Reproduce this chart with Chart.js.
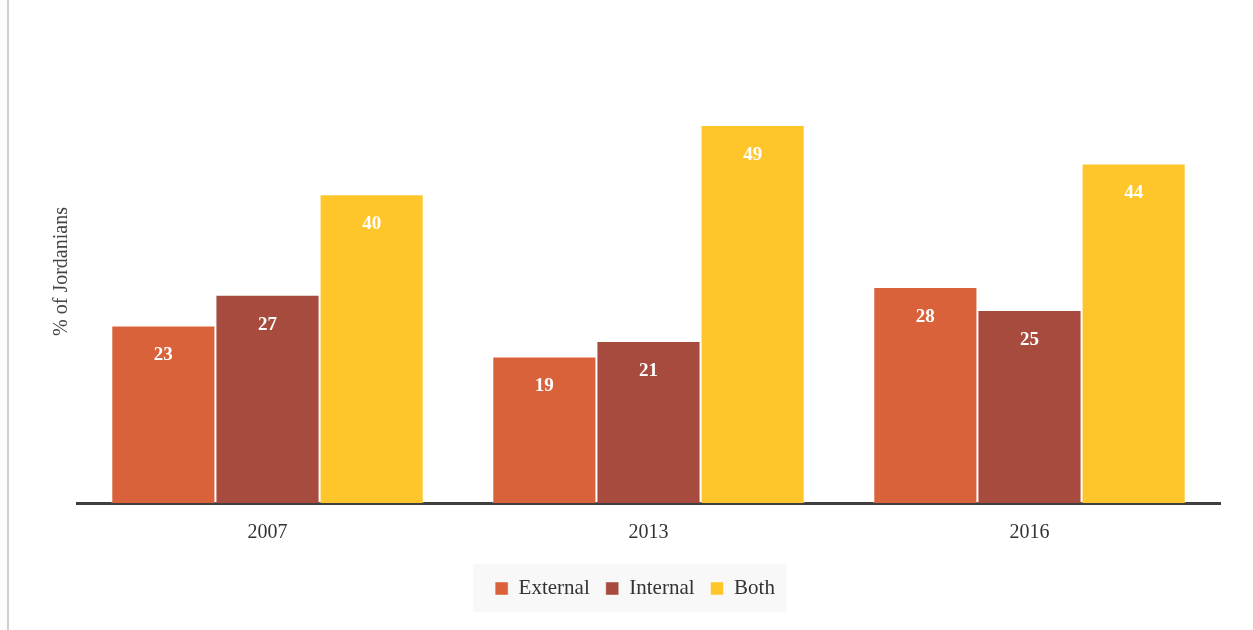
<!DOCTYPE html>
<html>
<head>
<meta charset="utf-8">
<script src="https://cdn.jsdelivr.net/npm/chart.js@4.4.0/dist/chart.umd.min.js"></script>
<style>
  html, body { margin: 0; padding: 0; background: #fdfdfd; }
  #wrap {
    position: absolute; left: 7px; top: 0;
    width: 1244px; height: 630px;
    border-left: 2px solid #cfcfcf;
    background: #fff;
  }
  canvas { display: block; }
</style>
</head>
<body>
<div id="wrap"><canvas id="grafico"></canvas></div>
<script>
// Dados
const anos = ['2007', '2013', '2016'];
const externo = [23, 19, 28];
const interno = [27, 21, 25];
const ambos = [40, 49, 44];

const fonte = "'Liberation Serif', 'DejaVu Serif', serif";

// Fundo cinza claro atrás da legenda
const fundoLegenda = {
  id: 'fundoLegenda',
  beforeDraw(chart) {
    const leg = chart.legend;
    if (!leg || !leg.legendHitBoxes || !leg.legendHitBoxes.length) return;
    const boxes = leg.legendHitBoxes;
    const left = Math.min(...boxes.map(b => b.left)) - 22;
    const right = Math.max(...boxes.map(b => b.left + b.width)) + 12;
    const ctx = chart.ctx;
    ctx.save();
    ctx.fillStyle = '#f8f8f8';
    ctx.fillRect(left, 564, right - left, 48);
    ctx.restore();
  }
};

// Valores dentro das barras
const rotulos = {
  id: 'rotulos',
  afterDatasetsDraw(chart) {
    const ctx = chart.ctx;
    ctx.save();
    ctx.fillStyle = '#fff';
    ctx.font = 'bold 19px ' + fonte;
    ctx.textAlign = 'center';
    ctx.textBaseline = 'middle';
    chart.data.datasets.forEach((ds, i) => {
      chart.getDatasetMeta(i).data.forEach((bar, j) => {
        ctx.fillText(ds.data[j], bar.x, bar.y + 30);
      });
    });
    ctx.restore();
  }
};

const ctx = document.getElementById('grafico').getContext('2d');

new Chart(ctx, {
  type: 'bar',
  data: {
    labels: anos,
    datasets: [
      { label: 'External', data: externo, backgroundColor: '#d9623a' },
      { label: 'Internal', data: interno, backgroundColor: '#a84b3f' },
      { label: 'Both', data: ambos, backgroundColor: '#fec62b' }
    ]
  },
  options: {
    responsive: true,
    maintainAspectRatio: false,
    animation: false,
    layout: { padding: { left: 41, right: 33, top: 40, bottom: 21 } },
    datasets: {
      bar: {
        categoryPercentage: 0.82,
        barPercentage: 1.0,
        borderColor: 'rgba(255,255,255,0.45)',
        borderWidth: 1
      }
    },
    scales: {
      x: {
        grid: { display: false, drawTicks: false },
        border: { display: true, color: '#3f3f3f', width: 3 },
        ticks: { color: '#333', font: { family: fonte, size: 20 }, padding: 17.5 }
      },
      y: {
        min: 0,
        max: 60,
        grid: { display: false },
        border: { display: false },
        ticks: { display: false },
        title: {
          display: true,
          text: '% of Jordanians',
          color: '#444',
          font: { family: fonte, size: 20 },
          padding: 0
        },
        afterFit(scale) { scale.width = 27; }
      }
    },
    plugins: {
      legend: {
        position: 'bottom',
        labels: {
          color: '#333',
          font: { family: fonte, size: 21 },
          boxWidth: 13,
          boxHeight: 13,
          padding: 16
        }
      },
      tooltip: { enabled: false }
    }
  },
  plugins: [fundoLegenda, rotulos]
});
</script>
</body>
</html>
